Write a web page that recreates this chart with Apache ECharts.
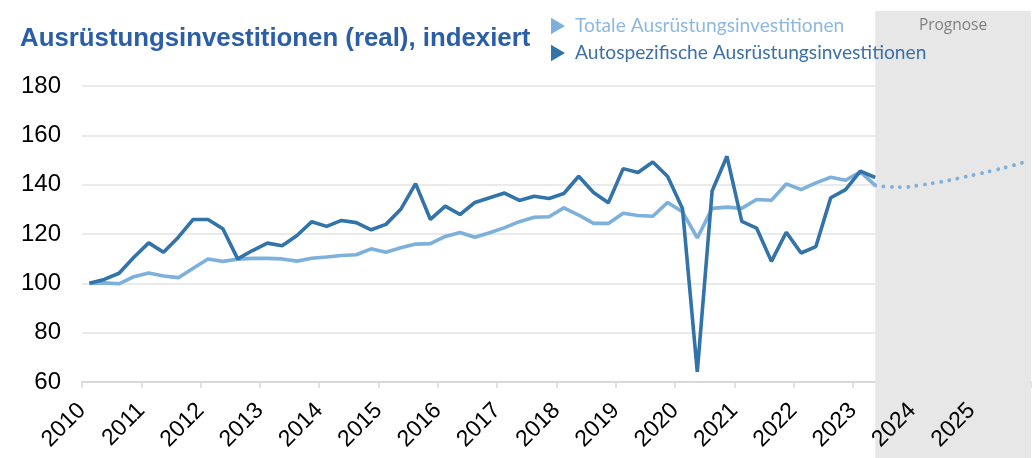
<!DOCTYPE html>
<html><head><meta charset="utf-8">
<script src="https://cdn.jsdelivr.net/npm/echarts@6/dist/echarts.min.js"></script>
<style>html,body{margin:0;padding:0;background:#fff}#c{width:1033px;height:458px}</style>
</head><body><div id="c"></div>
<script>
// Year tick labels (each year = 4 quarters)
const years = ['2010','2011','2012','2013','2014','2015','2016','2017','2018','2019','2020','2021','2022','2023','2024','2025'];
// Quarterly index values 2010Q1 .. 2023Q2
const totalValues = [
  100, 100.2, 99.8, 102.7, 104.2, 103, 102.3, 106.1, 109.9, 108.9,
  109.8, 110.1, 110.1, 109.9, 109, 110.2, 110.7, 111.3, 111.6, 114,
  112.6, 114.4, 115.9, 116.1, 119, 120.6, 118.7, 120.5, 122.6, 125,
  126.8, 127, 130.6, 127.7, 124.3, 124.3, 128.4, 127.5, 127.2, 132.8,
  129, 118.4, 130.4, 130.9, 130.4, 134, 133.7, 140.3, 138, 140.7,
  143, 141.8, 145.2, 139.7
];
const autoValues = [
  100, 101.6, 104.1, 110.6, 116.4, 112.6, 118.7, 125.9, 125.9, 122.1,
  109.9, 113.3, 116.3, 115.2, 119.4, 125, 123.1, 125.5, 124.6, 121.7,
  123.9, 130, 140.4, 125.9, 131.3, 127.9, 132.8, 134.7, 136.6, 133.6,
  135.3, 134.4, 136.4, 143.4, 136.8, 132.7, 146.5, 144.9, 149.2, 143.3,
  130.3, 64.1, 137.4, 151.5, 125.1, 122.4, 108.9, 120.7, 112.3, 114.9,
  134.7, 138, 145.5, 142.9
];
// Forecast of total equipment investment, 2023Q2 .. 2025Q4
const forecastValues = [139.7, 139.1, 139.0, 139.8, 140.7, 141.8, 143.1, 144.4, 145.8, 147.3, 149.0];
const yTicks = [60, 80, 100, 120, 140, 160, 180];

const seriesNames = ['Totale Ausrüstungsinvestitionen', 'Autospezifische Ausrüstungsinvestitionen'];
const LIGHT = '#7db0da', DARK = '#3273a9';
const lastIdx = totalValues.length - 1;
const totalData = totalValues.map((v, i) => [i + 0.5, v]);
const autoData = autoValues.map((v, i) => [i + 0.5, v]);
const forecastData = forecastValues.map((v, k) => [lastIdx + k + 0.5, v]);
const xMax = years.length * 4;
const labelFont = 'Liberation Sans, Arial, sans-serif';

const chart = echarts.init(document.getElementById('c'), null, {renderer: 'canvas'});
chart.setOption({
  animation: false,
  backgroundColor: '#fff',
  title: {
    text: 'Ausrüstungsinvestitionen (real), indexiert',
    left: 15, top: 21,
    textStyle: {fontFamily: 'Liberation Sans, Arial, sans-serif', fontWeight: 'bold', fontSize: 25.8, color: '#2a5ea8'}
  },
  legend: {
    orient: 'vertical', left: 546, top: 10,
    itemWidth: 14, itemHeight: 18, itemGap: 5,
    icon: 'path://M0,0L11,6.5L0,13Z',
    selectedMode: false,
    data: [
      {name: seriesNames[0], textStyle: {color: '#8db8df'}},
      {name: seriesNames[1], textStyle: {color: '#3c70a6'}}
    ],
    textStyle: {fontFamily: 'Lato, Open Sans, sans-serif', fontSize: 19.2, lineHeight: 22, padding: [0, 0, 0, 5]}
  },
  grid: {left: 82, right: 0, top: 86, bottom: 76, containLabel: false},
  xAxis: [{
    type: 'value', min: 0, max: xMax, interval: 4,
    axisLine: {show: true, lineStyle: {color: '#d9d9d9', width: 2}},
    axisTick: {show: true, length: 6, lineStyle: {color: '#d9d9d9', width: 1.5}},
    axisLabel: {show: false},
    splitLine: {show: false}
  }, {
    type: 'value', min: 0, max: xMax, interval: 4, position: 'bottom', z: 10,
    axisLine: {show: false}, axisTick: {show: false}, splitLine: {show: false},
    axisLabel: {
      show: true, rotate: 45, margin: 25, fontSize: 23, color: '#000', fontFamily: labelFont,
      padding: [18, 0, 0, 0],
      formatter: v => (v / 4 < years.length ? years[v / 4] : '')
    }
  }],
  yAxis: {
    type: 'value', min: yTicks[0], max: yTicks[yTicks.length - 1], interval: 20,
    axisLine: {show: false}, axisTick: {show: false},
    axisLabel: {fontSize: 24, color: '#000', fontFamily: labelFont, margin: 21},
    splitLine: {show: true, lineStyle: {color: '#e3e3e3', width: 1.5}}
  },
  series: [
    {
      name: seriesNames[0], type: 'line', data: totalData, showSymbol: false, symbol: 'none',
      color: LIGHT, lineStyle: {color: LIGHT, width: 3.6}, z: 3
    },
    {
      name: 'Prognose', type: 'line', data: forecastData, showSymbol: false, symbol: 'none', smooth: 0.4,
      color: LIGHT, lineStyle: {color: LIGHT, width: 3.8, type: [0.1, 8.2], cap: 'round'}, z: 3,
      markArea: {
        silent: true,
        itemStyle: {color: '#e7e7e7'},
        label: {show: true, position: 'insideTop', distance: 7, formatter: 'Prognose', color: '#7f7f7f', fontSize: 15.5, fontFamily: 'Open Sans, sans-serif'},
        data: [[{xAxis: lastIdx + 0.5, y: 11}, {xAxis: xMax, y: '100%'}]]
      }
    },
    {
      name: seriesNames[1], type: 'line', data: autoData, showSymbol: false, symbol: 'none',
      color: DARK, lineStyle: {color: DARK, width: 3.6}, z: 4
    }
  ]
});
</script>
</body></html>
